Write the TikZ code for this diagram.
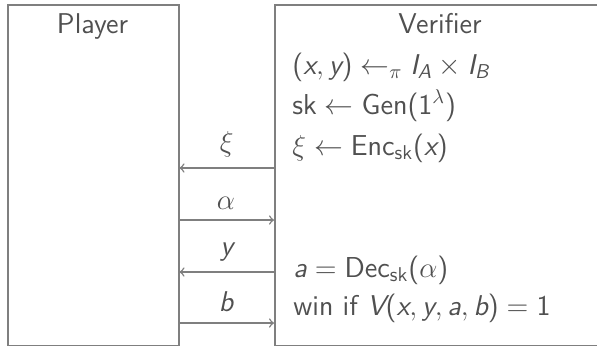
\documentclass[tikz,border=0pt]{standalone}
\usetikzlibrary{arrows}

% sans serif math letters, greek stays from the default font
\SetSymbolFont{operators}{normal}{TU}{lmss}{m}{n}
\DeclareSymbolFont{sfslanted}{TU}{lmss}{m}{sl}
\DeclareMathSymbol{a}{\mathalpha}{sfslanted}{`a}
\DeclareMathSymbol{b}{\mathalpha}{sfslanted}{`b}
\DeclareMathSymbol{x}{\mathalpha}{sfslanted}{`x}
\DeclareMathSymbol{y}{\mathalpha}{sfslanted}{`y}
\DeclareMathSymbol{A}{\mathalpha}{sfslanted}{`A}
\DeclareMathSymbol{B}{\mathalpha}{sfslanted}{`B}
\DeclareMathSymbol{I}{\mathalpha}{sfslanted}{`I}
\DeclareMathSymbol{V}{\mathalpha}{sfslanted}{`V}

\definecolor{textgray}{HTML}{505050}
\definecolor{linegray}{HTML}{7F7F7F}

\begin{document}
\begin{tikzpicture}[x=0.5pt, y=-0.5pt, font=\sffamily\fontsize{14.3}{17}\selectfont, text=textgray]
        \tikzstyle{panel} = [rectangle, draw=linegray, line width=0.75pt, anchor=north west, inner sep=0pt]
        \tikzstyle{title} = [anchor=base]
        \tikzstyle{stepline} = [anchor=base west, inner sep=0pt]
        \tikzstyle{msg} = [draw=linegray, line width=0.75pt, ->, >=to]

        \useasboundingbox (0,0) rectangle (597,345);
        \clip (0,0) rectangle (597,345);

        \node (player) [panel, minimum width=85.5pt, minimum height=170.5pt] at (7,4) {};
        \node (verifier) [panel, minimum width=183pt, minimum height=170.5pt] at (274,4) {};
        \node (playername) [title] at (92.5,33) {Player};
        \node (verifiername) [title] at (440,33) {Verifier};

        \node (sample) [stepline] at (292,74) {$(x,y) \leftarrow_\pi I_A \times I_B$};
        \node (keygen) [stepline] at (292,114) {$\mathsf{sk} \leftarrow \mathsf{Gen}(1^\lambda)$};
        \node (encrypt) [stepline] at (292,155) {$\xi \leftarrow \mathsf{Enc}_{\mathsf{sk}}(x)$};
        \node (decrypt) [stepline] at (293,277) {$a = \mathsf{Dec}_{\mathsf{sk}}(\alpha)$};
        \node (judge) [stepline] at (293,315) {win if $V(x,y,a,b) = 1$};

        \coordinate (sendxi) at (274,168);
        \coordinate (sendalpha) at (178,220);
        \coordinate (sendy) at (274,272);
        \coordinate (sendb) at (178,323);

        \draw [msg] (sendxi) -- (sendxi -| player.east) node [midway, above=1.7pt] {$\xi$};
        \draw [msg] (sendalpha) -- (sendalpha -| verifier.west) node [midway, above=1.7pt] {$\alpha$};
        \draw [msg] (sendy) -- (sendy -| player.east) node [midway, above=1.7pt] {$y$};
        \draw [msg] (sendb) -- (sendb -| verifier.west) node [midway, above=1.7pt] {$b$};
    \end{tikzpicture}
\end{document}
